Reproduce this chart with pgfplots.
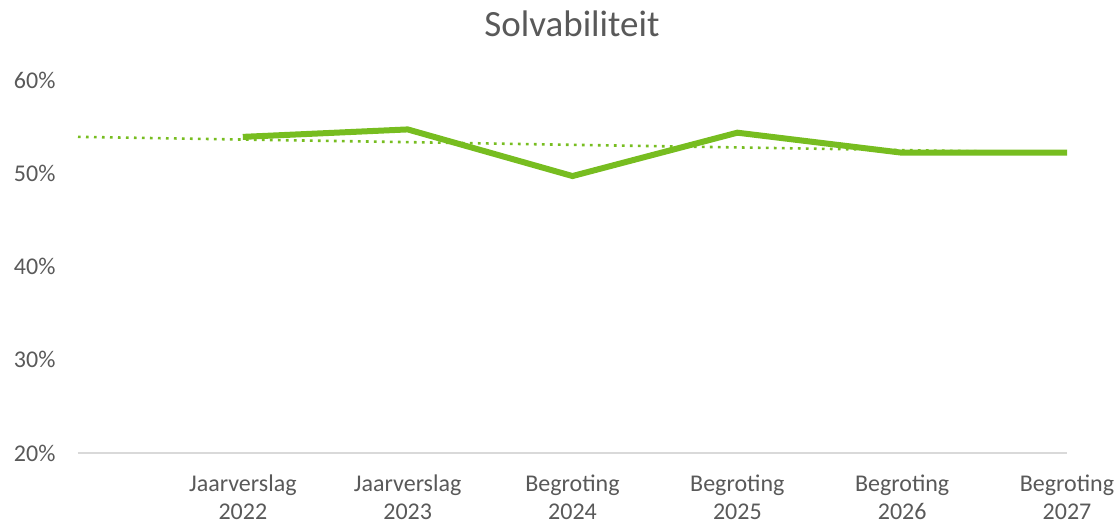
\documentclass[border=0pt]{standalone}
\usepackage{fontspec}
\setmainfont{Carlito}
\usepackage{pgfplots}
\pgfplotsset{compat=1.18}
\definecolor{lgreen}{RGB}{119,189,32}
\definecolor{txt}{RGB}{89,89,89}
\definecolor{axgray}{RGB}{217,217,217}
\begin{document}
\begin{tikzpicture}
\begin{axis}[
  scale only axis, width=989bp, height=373bp,
  xmin=-1, xmax=5, ymin=20, ymax=60,
  clip=false,
  axis lines*=left,
  x axis line style={draw=axgray, line width=1.3bp, -},
  y axis line style={draw=none},
  major tick length=0pt,
  xtick={0,1,2,3,4,5},
  xticklabels={{Jaarverslag\\2022},{Jaarverslag\\2023},{Begroting\\2024},{Begroting\\2025},{Begroting\\2026},{Begroting\\2027}},
  xticklabel style={align=center, text=txt, font=\fontsize{24bp}{28bp}\selectfont, anchor=north, yshift=-18bp},
  ytick={20,30,40,50,60},
  yticklabel={\pgfmathprintnumber{\tick}\%},
  yticklabel style={text=txt, font=\fontsize{24bp}{28bp}\selectfont, anchor=east, xshift=-19bp},
  /pgf/number format/assume math mode=true,
  title={Solvabiliteit},
  title style={at={(axis description cs:0.4995,1.1)}, anchor=base, text=txt, font=\fontsize{37bp}{42bp}\selectfont},
]
\addplot[lgreen, line width=2.6bp, dash pattern=on 2.6bp off 5.4bp] coordinates {(-1,53.9) (5,52.2)};
\addplot[lgreen, line width=6bp, line join=miter] coordinates {(0,53.9) (1,54.7) (2,49.7) (3,54.35) (4,52.2) (5,52.2)};
\end{axis}
\path[use as bounding box] (-78bp,-70bp) rectangle (1040bp,453bp);
\end{tikzpicture}
\end{document}
